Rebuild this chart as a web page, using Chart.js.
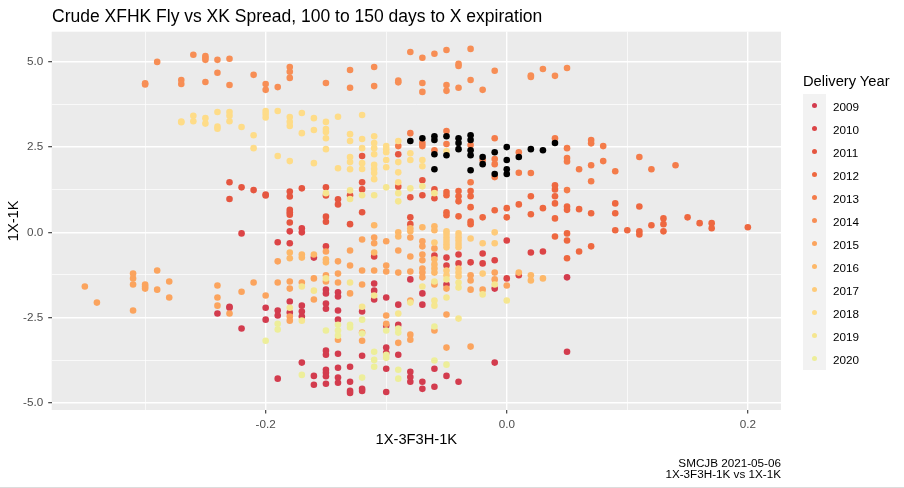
<!DOCTYPE html>
<html>
<head>
<meta charset="utf-8">
<script src="https://cdn.jsdelivr.net/npm/chart.js@4.4.1/dist/chart.umd.min.js"></script>
<style>
  html, body { margin: 0; padding: 0; background: #fff; }
  #wrap { position: relative; width: 904px; height: 488px; overflow: hidden;
          font-family: "Liberation Sans", Arial, sans-serif; border-bottom: 1px solid #dcdcdc; box-sizing: border-box; }
  #chart { position: absolute; left: 0; top: 0; }
  .title { position: absolute; left: 52px; top: 7.5px; font-size: 17.5px; line-height: 17.5px; color: #000; white-space: nowrap; }
  .caption { position: absolute; right: 123px; top: 456.5px; font-size: 11.7px; line-height: 11.5px; text-align: right; color: #000; white-space: nowrap; }
  .ltitle { position: absolute; left: 803px; top: 73.5px; font-size: 14.7px; line-height: 14.7px; color: #000; white-space: nowrap; }
  .lkeys { position: absolute; left: 803px; top: 94px; width: 23px; background: #f2f2f2; }
  .lrow { position: absolute; left: 803px; height: 23px; width: 100px; }
  .ldot { position: absolute; left: 8.8px; top: 8.8px; width: 5.5px; height: 5.5px; border-radius: 50%; }
  .llab { position: absolute; left: 30px; top: 0.5px; line-height: 23px; font-size: 11.7px; color: #000; }
</style>
</head>
<body>
<div id="wrap">
  <canvas id="chart" width="904" height="488"></canvas>
  <div class="title">Crude XFHK Fly vs XK Spread, 100 to 150 days to X expiration</div>
  <div class="caption">SMCJB 2021-05-06<br>1X-3F3H-1K vs 1X-1K</div>
  <div class="ltitle">Delivery Year</div>
  <div id="legend"></div>
</div>
<script>
// Delivery years and their colours
const years = [2009, 2010, 2011, 2012, 2013, 2014, 2015, 2016, 2017, 2018, 2019, 2020];
const colors = ["#D33C4E", "#DC4446", "#E55640", "#EE6840", "#F47C4A", "#F78E55",
                "#FBA45E", "#FDB869", "#FECB7A", "#FEDC88", "#F5E690", "#EDEE9A"];

// [1X-3F3H-1K, 1X-1K] pairs
const pts2009 = [[-0.24,-2.38],[-0.23,-2.18],[-0.23,-2.21],[-0.22,-2.82],[-0.20,-2.21],[-0.20,-2.56],[-0.19,-2.29],[-0.19,-2.44],
  [-0.19,-4.29],[-0.18,-2.03],[-0.18,-2.35],[-0.17,-2.15],[-0.17,-2.32],[-0.17,-2.47],[-0.17,-3.82],[-0.16,-0.74],[-0.16,-4.21],
  [-0.16,-4.47],[-0.15,-1.68],[-0.15,-1.79],[-0.15,-2.09],[-0.15,-2.24],[-0.15,-3.47],[-0.15,-3.59],[-0.15,-4.03],[-0.15,-4.12],
  [-0.15,-4.22],[-0.15,-4.44],[-0.14,-1.76],[-0.14,-1.88],[-0.14,-2.29],[-0.14,-2.56],[-0.14,-3.56],[-0.14,-3.97],[-0.14,-4.26],
  [-0.14,-4.41],[-0.13,-3.94],[-0.13,-4.38],[-0.13,-4.65],[-0.13,-4.71],[-0.12,-2.32],[-0.12,-3.62],[-0.12,-4.59],[-0.12,-4.65],
  [-0.11,-1.50],[-0.11,-1.71],[-0.11,-1.97],[-0.10,-1.91],[-0.10,-2.74],[-0.10,-3.38],[-0.10,-3.53],[-0.10,-4.00],[-0.10,-4.68],
  [-0.09,-2.12],[-0.09,-2.71],[-0.09,-3.59],[-0.08,-1.38],[-0.08,-4.09],[-0.08,-4.24],[-0.08,-4.38],[-0.07,-1.79],[-0.07,-2.12],
  [-0.07,-4.38],[-0.07,-4.59],[-0.06,-4.00],[-0.06,-4.53],[-0.05,-1.53],[-0.05,-4.21],[-0.04,-4.38],[-0.01,-1.65],[-0.01,-3.82],
  [0.05,-1.32],[0.05,-3.50]];
const pts2010 = [[-0.22,-0.03],[-0.19,-0.29],[-0.18,0.03],[-0.18,-0.32],[-0.17,0.12],[-0.17,0.00],[-0.15,-0.41],[-0.11,-0.71],
  [-0.06,-0.68],[-0.05,-0.74],[-0.05,-0.97],[-0.04,-0.65],[-0.04,-0.91],[-0.03,-0.88],[-0.02,-0.62],[-0.02,-0.91],[-0.01,-0.82],
  [0.00,-0.24],[0.00,-1.35],[0.01,-1.26],[0.02,-0.59],[0.03,-0.56]];
const pts2011 = [[-0.23,1.47],[-0.23,0.98],[-0.22,1.32],[-0.21,1.24],[-0.20,1.11],[-0.20,1.08],[-0.18,1.20],[-0.18,1.05],
  [-0.18,0.66],[-0.18,0.59],[-0.18,0.52],[-0.18,0.29],[-0.17,1.29],[-0.15,1.32],[-0.15,1.08],[-0.15,0.46],[-0.15,0.31],
  [-0.14,0.97],[-0.14,0.82],[-0.13,1.09],[-0.13,0.24],[-0.12,2.24],[-0.12,1.47],[-0.12,1.26],[-0.12,0.59],[-0.09,2.29],
  [-0.09,1.34],[-0.08,1.03],[-0.08,0.44],[-0.08,0.24],[-0.07,1.53],[-0.07,1.09],[-0.06,1.26],[-0.06,1.00]];
const pts2012 = [[-0.05,1.18],[-0.05,1.09],[-0.05,0.59],[-0.05,0.50],[-0.04,1.21],[-0.04,1.06],[-0.04,0.91],[-0.04,0.47],
  [-0.03,1.21],[-0.03,1.06],[-0.03,0.74],[-0.03,0.32],[-0.03,0.24],[-0.02,0.44],[-0.01,0.65],[0.00,0.71],[0.00,0.44],
  [0.01,0.82],[0.02,1.06],[0.02,0.53],[0.03,0.71],[0.04,1.38],[0.04,1.26],[0.04,1.06],[0.04,0.85],[0.04,0.41],[0.04,-0.12],
  [0.05,0.76],[0.05,0.66],[0.05,-0.03],[0.05,-0.24],[0.05,-0.76],[0.06,0.68],[0.06,-0.56],[0.07,0.56],[0.07,-0.41],
  [0.09,0.85],[0.09,0.56],[0.09,0.06],[0.10,0.06],[0.11,0.76],[0.11,0.03],[0.11,-0.06],[0.12,0.21],[0.13,0.41],[0.13,0.24],
  [0.13,0.03],[0.15,0.44],[0.16,0.27],[0.17,0.27],[0.17,0.12],[0.20,0.15]];
const pts2013 = [[-0.09,2.53],[-0.08,2.91],[-0.07,2.62],[-0.07,2.53],[-0.06,2.41],[-0.05,2.97],[-0.05,2.59],[-0.03,2.56],
  [-0.03,1.47],[-0.02,2.12],[-0.01,2.76],[-0.01,2.15],[-0.01,2.00],[-0.01,1.62],[0.01,2.35],[0.01,1.75],[0.02,1.74],
  [0.04,2.76],[0.05,2.47],[0.05,2.18],[0.05,2.08],[0.05,1.24],[0.06,1.85],[0.07,2.71],[0.07,2.61],[0.07,1.97],[0.07,1.50],
  [0.08,2.53],[0.08,2.09],[0.09,1.79],[0.11,2.21],[0.12,1.85],[0.14,1.97]];
const pts2014 = [[-0.30,4.34],[-0.30,4.37],[-0.29,5.00],[-0.27,4.47],[-0.27,4.35],[-0.26,5.21],[-0.25,5.17],[-0.25,5.12],
  [-0.25,5.06],[-0.25,4.41],[-0.24,5.06],[-0.24,4.68],[-0.23,5.09],[-0.23,4.32],[-0.21,4.62],[-0.20,4.35],[-0.20,4.18],
  [-0.19,4.26],[-0.18,4.85],[-0.18,4.71],[-0.18,4.53],[-0.15,4.38],[-0.13,4.76],[-0.13,4.24],[-0.11,4.85],[-0.11,4.29],
  [-0.09,4.45],[-0.09,4.40],[-0.08,5.29],[-0.07,5.12],[-0.07,4.38],[-0.07,4.12],[-0.06,5.24],[-0.05,5.35],[-0.05,4.32],
  [-0.05,4.15],[-0.04,4.94],[-0.04,4.88],[-0.04,4.24],[-0.03,5.38],[-0.03,4.47],[-0.02,4.18],[-0.01,4.74],[0.02,4.60],
  [0.02,4.56],[0.03,4.79],[0.04,4.59],[0.05,4.82]];
const pts2015 = [[-0.35,-1.59],[-0.34,-2.06],[-0.31,-1.21],[-0.31,-1.35],[-0.31,-1.53],[-0.31,-2.29],[-0.30,-1.53],[-0.30,-1.59],
  [-0.30,-1.65],[-0.29,-1.12],[-0.29,-1.68],[-0.28,-1.44],[-0.28,-1.91],[-0.24,-1.56],[-0.24,-1.91],[-0.24,-2.15],[-0.23,-2.38],
  [-0.22,-1.74],[-0.21,-1.47],[-0.20,-1.85],[-0.19,-0.85],[-0.19,-1.47],[-0.18,-1.44],[-0.18,-1.65],[-0.18,-2.47],[-0.18,-2.59],
  [-0.17,-1.47],[-0.16,-1.35],[-0.16,-1.97],[-0.15,-0.56],[-0.15,-1.26],[-0.15,-1.44],[-0.14,-0.85],[-0.14,-1.21],[-0.14,-1.47],
  [-0.14,-3.15],[-0.13,-0.53],[-0.13,-0.97],[-0.13,-1.79],[-0.12,-0.21],[-0.12,-1.12],[-0.12,-1.53],[-0.12,-2.94],[-0.12,-3.18],
  [-0.11,-0.15],[-0.11,-0.32],[-0.11,-1.12],[-0.10,-0.26],[-0.10,-0.97],[-0.10,-1.15],[-0.10,-2.44],[-0.10,-2.68],[-0.09,-0.53],
  [-0.09,-1.18],[-0.09,-3.24],[-0.08,-0.15],[-0.08,-0.71],[-0.08,-1.15],[-0.08,-2.00],[-0.08,-3.00],[-0.08,-3.15],[-0.07,-0.26],
  [-0.07,-0.41],[-0.07,-0.65],[-0.07,-0.82],[-0.07,-1.06],[-0.07,-1.18],[-0.07,-1.32],[-0.06,-0.47],[-0.06,-1.53],[-0.06,-2.88],
  [-0.05,-1.65],[-0.05,-2.41],[-0.05,-3.38],[-0.03,-1.26],[-0.03,-1.41],[-0.03,-1.68],[-0.03,-3.35],[-0.02,-1.68],[-0.01,-1.18],
  [-0.01,-1.38],[0.00,-1.56]];
const pts2016 = [[-0.18,-0.59],[-0.18,-0.76],[-0.17,-0.65],[-0.17,-0.74],[-0.16,-0.65],[-0.15,-0.79],[-0.15,-0.88],[-0.11,0.21],
  [-0.11,-0.59],[-0.09,0.00],[-0.09,-0.12],[-0.08,0.12],[-0.08,0.03],[-0.07,0.15],[-0.06,0.18],[-0.06,0.06],[-0.06,-0.79],
  [-0.06,-0.94],[-0.06,-1.06],[-0.06,-1.18],[0.01,-1.18],[0.02,-1.26],[0.02,-1.41],[0.03,-1.35]];
const pts2017 = [[-0.06,-0.30],[-0.05,0.03],[-0.05,-0.05],[-0.05,-0.15],[-0.05,-0.25],[-0.05,-0.35],[-0.05,-0.44],[-0.05,-1.12],
  [-0.05,-1.26],[-0.04,-0.03],[-0.04,-0.14],[-0.04,-0.24],[-0.04,-0.34],[-0.04,-0.44],[-0.04,-1.06],[-0.04,-1.18],[-0.04,-1.29],
  [-0.03,-0.18],[-0.02,-0.32],[-0.02,-1.21],[-0.01,0.00],[-0.01,-0.32]];
const pts2018 = [[-0.27,3.23],[-0.27,3.25],[-0.26,3.42],[-0.26,3.26],[-0.25,3.35],[-0.25,3.19],[-0.24,3.53],[-0.24,3.10],
  [-0.24,3.04],[-0.23,3.53],[-0.23,3.42],[-0.23,3.26],[-0.22,3.09],[-0.21,2.85],[-0.21,2.47],[-0.20,3.56],[-0.20,3.47],
  [-0.20,3.37],[-0.19,3.56],[-0.19,2.24],[-0.18,3.38],[-0.18,3.24],[-0.18,3.12],[-0.18,2.09],[-0.17,3.50],[-0.17,2.91],
  [-0.16,3.35],[-0.16,3.00],[-0.16,2.03],[-0.15,3.24],[-0.15,3.03],[-0.15,2.94],[-0.15,2.76],[-0.15,2.44],[-0.14,3.39],
  [-0.14,1.88],[-0.13,2.88],[-0.13,2.68],[-0.13,2.21],[-0.13,2.06],[-0.13,1.85],[-0.12,3.44],[-0.12,2.74],[-0.12,2.47],
  [-0.12,2.03],[-0.12,1.86],[-0.11,2.82],[-0.11,2.62],[-0.11,2.47],[-0.11,2.29],[-0.11,1.98],[-0.11,1.86],[-0.11,1.74],
  [-0.11,1.56],[-0.10,2.53],[-0.10,2.44],[-0.10,2.35],[-0.10,2.12],[-0.10,1.91],[-0.09,2.68],[-0.09,2.06],[-0.09,1.76],
  [-0.09,1.47],[-0.08,2.32],[-0.08,2.12],[-0.07,2.12],[-0.07,1.94],[-0.05,2.38]];
const pts2019 = [[-0.15,1.15],[-0.13,1.23],[-0.13,0.98],[-0.12,1.09],[-0.11,1.09],[-0.10,1.32],[-0.09,1.15],[-0.09,0.91],
  [-0.08,1.29],[-0.07,1.35],[-0.06,1.15],[-0.18,-2.21],[-0.17,-1.59],[-0.17,-2.59],[-0.16,-1.71],[-0.15,-1.35],[-0.13,-1.47],
  [-0.12,-2.18],[-0.11,-1.85],[-0.09,-2.38],[-0.08,-2.06],[-0.07,-1.59],[-0.06,-1.44],[-0.06,-2.00],[-0.06,-2.15],[-0.05,-1.38],
  [-0.05,-1.91],[-0.04,-1.47],[-0.04,-1.62],[-0.04,-2.53],[-0.02,-1.82],[-0.01,-1.53],[0.00,-2.00]];
const pts2020 = [[-0.20,-3.18],[-0.19,-2.68],[-0.19,-2.85],[-0.17,-4.18],[-0.15,-2.88],[-0.14,-2.71],[-0.14,-2.88],[-0.14,-3.03],
  [-0.13,-2.71],[-0.13,-2.79],[-0.12,-2.56],[-0.12,-2.97],[-0.12,-4.26],[-0.11,-3.50],[-0.11,-3.74],[-0.11,-3.94],[-0.10,-2.88],
  [-0.10,-3.59],[-0.10,-3.68],[-0.09,-2.82],[-0.09,-2.94],[-0.09,-4.03],[-0.09,-4.29],[-0.06,-2.76],[-0.06,-3.76],[-0.05,-3.88]];
// current contract, drawn in black on top, not in the legend
const ptsLatest = [[-0.08,2.68],[-0.07,2.76],[-0.06,2.82],[-0.06,2.71],[-0.06,2.29],[-0.06,1.85],[-0.05,2.82],[-0.05,2.26],
  [-0.04,2.76],[-0.04,2.62],[-0.04,2.44],[-0.03,2.85],[-0.03,2.71],[-0.03,2.41],[-0.03,2.26],[-0.03,1.82],[-0.02,2.21],
  [-0.02,2.00],[-0.01,2.35],[-0.01,1.71],[0.00,2.50],[0.00,2.12],[0.00,1.85],[0.00,1.71],[0.01,2.21],[0.02,2.44],
  [0.03,2.41],[0.04,2.62]];

const seriesPoints = [pts2009, pts2010, pts2011, pts2012, pts2013, pts2014, pts2015, pts2016, pts2017, pts2018, pts2019, pts2020];

// Axis ticks (majors get labels, minors are grid only)
const xTicks = [-0.3, -0.2, -0.1, 0, 0.1, 0.2];
const yTicks = [-5, -3.75, -2.5, -1.25, 0, 1.25, 2.5, 3.75, 5];

const FONT = '"Liberation Sans", Arial, sans-serif';
const isMajorX = v => Math.abs(Math.round(v * 10)) % 2 === 0;
const isMajorY = v => Math.abs(v / 2.5 - Math.round(v / 2.5)) < 1e-6;

// Grey ggplot-style panel behind the grid
const panelBg = {
  id: 'panelBg',
  beforeDraw(chart) {
    const { ctx, chartArea: a } = chart;
    ctx.save();
    ctx.fillStyle = '#EBEBEB';
    ctx.fillRect(a.left, a.top, a.right - a.left, a.bottom - a.top);
    ctx.restore();
  }
};

const toXY = arr => arr.map(([x, y]) => ({ x, y }));

const datasets = years.map((yr, i) => ({
  label: String(yr),
  data: toXY(seriesPoints[i]),
  pointBackgroundColor: colors[i],
  backgroundColor: colors[i],
  pointBorderWidth: 0,
  pointRadius: 3.3,
  order: years.length - i
}));
datasets.push({
  label: 'latest',
  data: toXY(ptsLatest),
  pointBackgroundColor: '#000',
  backgroundColor: '#000',
  pointBorderWidth: 0,
  pointRadius: 3.3,
  order: 0
});

new Chart(document.getElementById('chart').getContext('2d'), {
  type: 'scatter',
  data: { datasets },
  options: {
    responsive: false,
    animation: false,
    events: [],
    layout: { padding: { top: 31.7, right: 123, bottom: 40.5, left: 0 } },
    plugins: { legend: { display: false }, tooltip: { enabled: false }, title: { display: false } },
    scales: {
      x: {
        type: 'linear',
        min: -0.3775,
        max: 0.2275,
        afterBuildTicks: s => { s.ticks = xTicks.map(v => ({ value: v })); },
        afterFit: s => { s.height = 37.5; },
        border: { display: false },
        grid: {
          color: '#FFFFFF',
          lineWidth: c => (c.tick && isMajorX(c.tick.value)) ? 1.4 : 0.7,
          tickLength: 3.5,
          tickWidth: 1.1,
          tickColor: c => (c.tick && isMajorX(c.tick.value)) ? '#333333' : 'rgba(0,0,0,0)'
        },
        ticks: {
          autoSkip: false,
          maxRotation: 0,
          padding: 4.5,
          color: '#4D4D4D',
          font: { family: FONT, size: 11.7 },
          callback: v => isMajorX(v) ? v.toFixed(1) : ''
        },
        title: { display: true, text: '1X-3F3H-1K', color: '#000', font: { family: FONT, size: 14.7, lineHeight: 1 }, padding: { top: 0, bottom: 0 } }
      },
      y: {
        type: 'linear',
        min: -5.21,
        max: 5.885,
        afterBuildTicks: s => { s.ticks = yTicks.map(v => ({ value: v })); },
        afterFit: s => { s.width = 51.7; },
        border: { display: false },
        grid: {
          color: '#FFFFFF',
          lineWidth: c => (c.tick && isMajorY(c.tick.value)) ? 1.4 : 0.7,
          tickLength: 3.5,
          tickWidth: 1.1,
          tickColor: c => (c.tick && isMajorY(c.tick.value)) ? '#333333' : 'rgba(0,0,0,0)'
        },
        ticks: {
          autoSkip: false,
          padding: 5,
          color: '#4D4D4D',
          font: { family: FONT, size: 11.7 },
          callback: v => isMajorY(v) ? v.toFixed(1) : ''
        },
        title: { display: true, text: '1X-1K', color: '#000', font: { family: FONT, size: 14.7, lineHeight: 1 }, padding: { top: 6.5, bottom: 0 } }
      }
    }
  },
  plugins: [panelBg]
});

// HTML legend for the delivery years
const legend = document.getElementById('legend');
const keys = document.createElement('div');
keys.className = 'lkeys';
keys.style.height = (years.length * 23) + 'px';
legend.appendChild(keys);
years.forEach((yr, i) => {
  const row = document.createElement('div');
  row.className = 'lrow';
  row.style.top = (94 + i * 23) + 'px';
  row.innerHTML = '<span class="ldot" style="background:' + colors[i] + '"></span><span class="llab">' + yr + '</span>';
  legend.appendChild(row);
});
</script>
</body>
</html>
